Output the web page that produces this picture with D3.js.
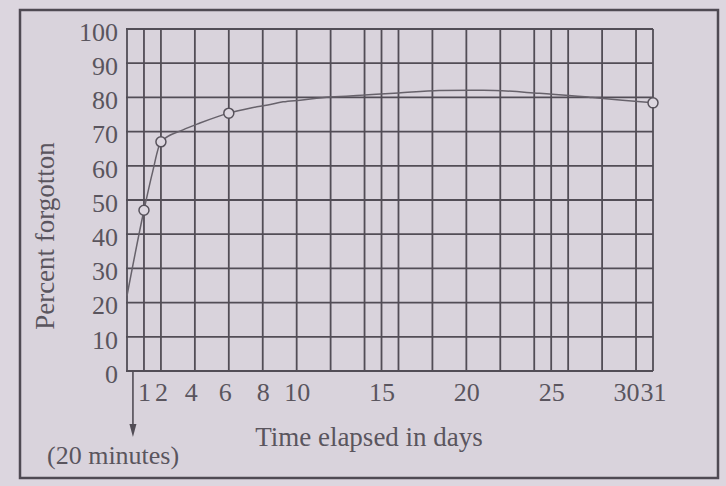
<!DOCTYPE html>
<html>
<head>
<meta charset="utf-8">
<script src="https://cdn.jsdelivr.net/npm/d3@7"></script>
<style>
  html, body { margin: 0; padding: 0; background: #dcd6df; }
  svg { display: block; }
  text { font-family: "Liberation Serif", "Times New Roman", serif; fill: #5a555e; }
</style>
</head>
<body>
<svg width="726" height="486"></svg>
<script>
// values
var curveDays = [0, 1, 1.5, 2, 3.3, 4.3, 5.3, 6, 7.3, 8.3, 9.2, 10.2, 12, 14, 16, 18.4, 21, 24.3, 27.3, 29.2, 31];
var curvePct  = [22, 47, 58, 67, 70.5, 72.5, 74.3, 75.4, 76.9, 77.8, 78.7, 79.2, 80.1, 80.7, 81.3, 82, 82.1, 81.2, 80, 79.2, 78.4];

var pointDays = [1, 2, 6, 31];
var pointPct  = [47, 67, 75.4, 78.4];

var gridDays  = [0, 1, 2, 4, 6, 8, 10, 12, 14, 15, 16, 18, 20, 22, 24, 25, 26, 28, 30, 31];
var labelDays = [1, 2, 4, 6, 8, 10, 15, 20, 25, 30, 31];
var pctTicks  = [0, 10, 20, 30, 40, 50, 60, 70, 80, 90, 100];

var arrowDay = 0.35;   // the "(20 minutes)" marker
var arrowLabel = "(20 minutes)";
var xTitle = "Time elapsed in days";
var yTitle = "Percent forgotton";

var plotLeft = 127, plotRight = 653, plotTop = 29, plotBottom = 371;
var ink = "#524d56";
var serif = '"Liberation Serif", "Times New Roman", serif';

var x = d3.scaleLinear().domain([0, 31]).range([plotLeft, plotRight]);
var y = d3.scaleLinear().domain([0, 100]).range([plotBottom, plotTop]);

var svg = d3.select("svg");

// outer frame
svg.append("rect")
  .attr("x", 20).attr("y", 10).attr("width", 698).attr("height", 468)
  .attr("fill", "#d9d3dc").attr("stroke", "#4f4a53").attr("stroke-width", 2.5);

// grid
var grid = svg.append("g").attr("stroke", ink).attr("stroke-width", 1.8);

grid.selectAll("line.h").data(pctTicks).enter()
  .append("line").attr("class", "h")
  .attr("x1", x(0) - 1).attr("x2", x(31))
  .attr("y1", function(d) { return y(d); })
  .attr("y2", function(d) { return y(d); });

grid.selectAll("line.v").data(gridDays).enter()
  .append("line").attr("class", "v")
  .attr("x1", function(d) { return x(d); })
  .attr("x2", function(d) { return x(d); })
  .attr("y1", y(100)).attr("y2", y(0));

// y labels
var axisVertical = d3.axisLeft(y).tickValues(pctTicks).tickSize(0).tickPadding(9);
var gy = svg.append("g").attr("transform", "translate(" + plotLeft + ",3)").call(axisVertical);
gy.select(".domain").remove();
gy.selectAll("text").attr("font-size", 26).attr("fill", "#5a555e")
  .style("font-family", serif);

// x labels
var axisHorizontal = d3.axisBottom(x).tickValues(labelDays).tickSize(0).tickPadding(12);
var gx = svg.append("g").attr("transform", "translate(0," + plotBottom + ")").call(axisHorizontal);
gx.select(".domain").remove();
gx.selectAll("text").attr("font-size", 26).attr("fill", "#5a555e")
  .style("font-family", serif)
  .attr("dx", function(d) { return d === 30 ? -10 : (d === 4 || d === 6 ? -4 : 0); });

// curve
var line = d3.line()
  .x(function(d, i) { return x(curveDays[i]); })
  .y(function(d, i) { return y(curvePct[i]); })
  .curve(d3.curveMonotoneX);

svg.append("path")
  .attr("d", line(curveDays))
  .attr("fill", "none").attr("stroke", "#67626b").attr("stroke-width", 1.5);

svg.selectAll("circle.pt").data(pointDays).enter()
  .append("circle").attr("class", "pt")
  .attr("cx", function(d) { return x(d); })
  .attr("cy", function(d, i) { return y(pointPct[i]); })
  .attr("r", 5)
  .attr("fill", "#ddd7e0").attr("stroke", "#57525b").attr("stroke-width", 1.5);

// 20 minutes arrow
var ax = x(arrowDay);
svg.append("line")
  .attr("x1", ax).attr("x2", ax).attr("y1", plotBottom).attr("y2", 428)
  .attr("stroke", ink).attr("stroke-width", 1.6);
svg.append("path")
  .attr("d", "M" + (ax - 3.5) + ",424 L" + (ax + 3.5) + ",424 L" + ax + ",437 Z")
  .attr("fill", ink);

svg.append("text")
  .attr("x", 47).attr("y", 464)
  .attr("font-size", 26)
  .text(arrowLabel);

svg.append("text")
  .attr("x", 369).attr("y", 446)
  .attr("text-anchor", "middle")
  .attr("font-size", 27)
  .text(xTitle);

svg.append("text")
  .attr("transform", "translate(54,236) rotate(-90)")
  .attr("text-anchor", "middle")
  .attr("font-size", 27)
  .text(yTitle);
</script>
</body>
</html>
